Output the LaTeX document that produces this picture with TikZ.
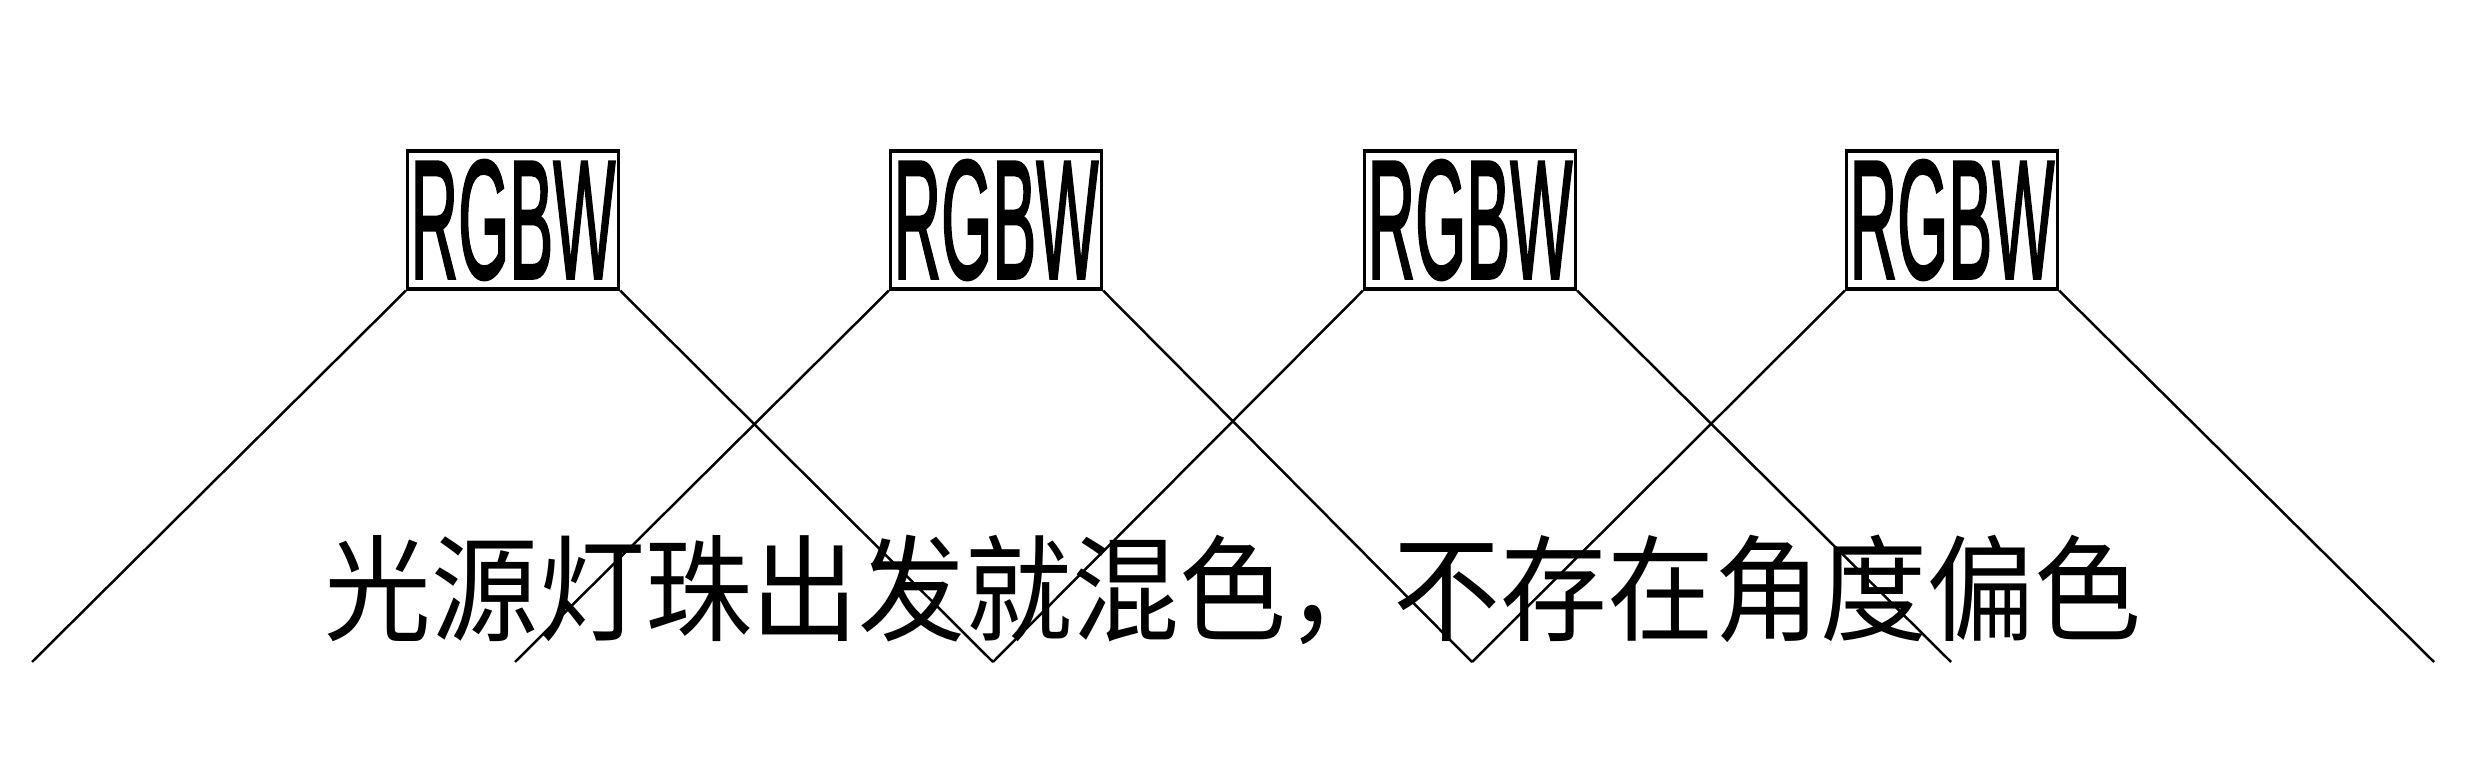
\documentclass[tikz,border=0pt]{standalone}
\usepackage{fontspec}
\setmainfont{Liberation Sans}
\newfontfamily\rgbwfont[AutoFakeBold=2]{Liberation Sans}
\newfontfamily\cjk{Noto Sans CJK SC}
\begin{document}
\begin{tikzpicture}[x=0.01cm,y=-0.01cm,
  ledbox/.style={draw,line width=0.9pt,minimum width=2.11cm,minimum height=1.38cm,inner sep=0pt,fill=white},
  ray/.style={line width=0.7pt}]
\useasboundingbox (0,0) rectangle (2484,780);
\fill[white] (0,0) rectangle (2484,780);
% bottom ends
\coordinate (e0) at (32,662);
\coordinate (e1) at (515,662);
\coordinate (e2) at (993,662);
\coordinate (e3) at (1472,662);
\coordinate (e4) at (1951,662);
\coordinate (e5) at (2434,662);
% caption
\node[inner sep=0pt] (cap) at (1233,590) {\scalebox{1}[1.08]{\cjk\fontsize{30.4pt}{30.4pt}\selectfont 光源灯珠出发就混色，不存在角度偏色}};
% boxes
\foreach \i/\cx in {1/513,2/996,3/1470,4/1952}{
  \node[ledbox] (b\i) at (\cx,220) {\raisebox{-0.4pt}{\scalebox{0.39}[1]{\rgbwfont\fontsize{48pt}{48pt}\selectfont\bfseries RGBW}}};
}
\draw[ray] (b1.south west) -- (e0);
\draw[ray] (b1.south east) -- (e2);
\draw[ray] (b2.south west) -- (e1);
\draw[ray] (b2.south east) -- (e3);
\draw[ray] (b3.south west) -- (e2);
\draw[ray] (b3.south east) -- (e4);
\draw[ray] (b4.south west) -- (e3);
\draw[ray] (b4.south east) -- (e5);
\end{tikzpicture}
\end{document}
